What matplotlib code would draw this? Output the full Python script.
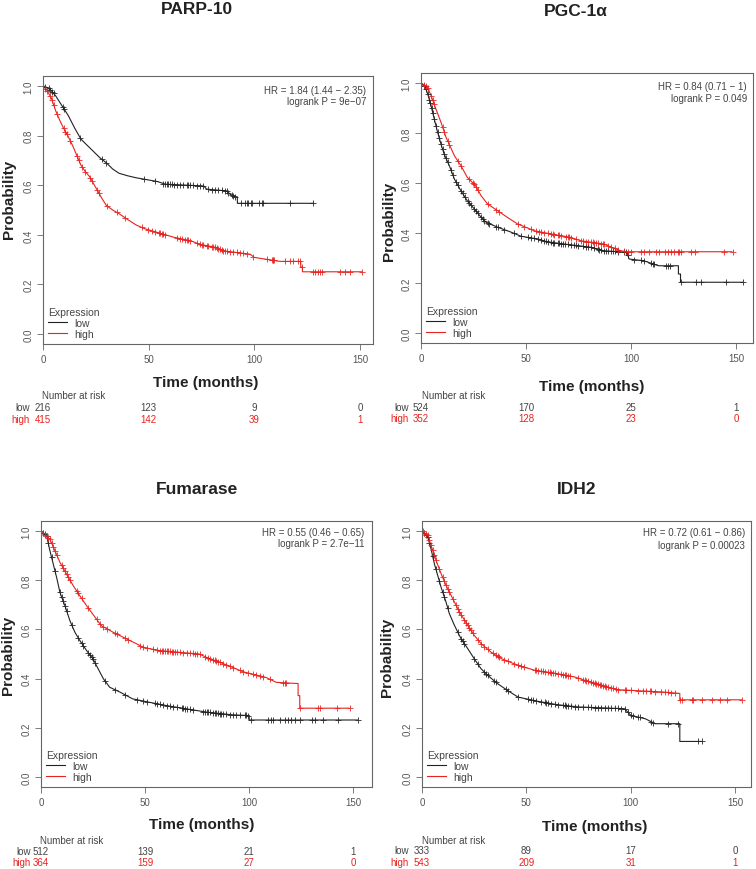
import matplotlib
matplotlib.use("Agg")
import matplotlib.pyplot as plt
import matplotlib.transforms as mtransforms
import numpy as np

plt.rcParams['font.family'] = ['Liberation Sans', 'DejaVu Sans']

# ---- data ----
titles = ["PARP-10", "PGC-1\u03b1", "Fumarase", "IDH2"]
hr_labels = ["HR = 1.84 (1.44 \u2212 2.35)", "HR = 0.84 (0.71 \u2212 1)",
             "HR = 0.55 (0.46 \u2212 0.65)", "HR = 0.72 (0.61 \u2212 0.86)"]
p_labels = ["logrank P = 9e\u221207", "logrank P = 0.049",
            "logrank P = 2.7e\u221211", "logrank P = 0.00023"]
x_ticks = [0, 50, 100, 150]
y_ticks = [0.0, 0.2, 0.4, 0.6, 0.8, 1.0]
y_tick_labels = ["0.0", "0.2", "0.4", "0.6", "0.8", "1.0"]
risk_low = [[216, 123, 9, 0], [524, 170, 25, 1], [512, 139, 21, 1], [333, 89, 17, 0]]
risk_high = [[415, 142, 39, 1], [352, 128, 23, 0], [364, 159, 27, 0], [543, 209, 31, 1]]

# PARP-10
parp_low_t = [0, 3, 6, 9, 12, 15, 18, 21, 24, 27, 30, 33, 36, 40, 44, 48, 54, 58, 76, 77.5, 87, 88.5, 91, 92, 92, 128]
parp_low_s = [1.0, 0.99, 0.96, 0.92, 0.88, 0.83, 0.785, 0.76, 0.735, 0.71, 0.69, 0.665, 0.648, 0.638, 0.63, 0.624,
              0.615, 0.604, 0.597, 0.584, 0.577, 0.564, 0.553, 0.553, 0.527, 0.527]
parp_low_c = [1.1, 2.7, 3.5, 4.3, 5.0, 9.5, 10.1, 17.6, 27.9, 30, 47.6, 53.1, 57, 57.8, 58.6, 59.4, 60.2, 61, 61.8,
              63.4, 64.9, 66.5, 68.1, 68.8, 69.6, 71.2, 72.8, 74.4, 75.9, 78.3, 79.9, 81.4, 83, 84.6, 86.2, 87, 87.8,
              89.3, 90.1, 90.9, 93.5, 95.6, 96.4, 97.2, 98.3, 98.8, 102.4, 103.5, 104.3, 116.9, 128]
parp_high_t = [0, 2, 4, 6, 8, 10, 12, 14, 16, 18, 20, 22, 24, 26, 28, 30, 33, 36, 40, 44, 48, 54, 62, 70, 74, 82, 85,
               98, 100, 112, 122, 122, 122.8, 122.8, 151]
parp_high_s = [1.0, 0.98, 0.95, 0.9, 0.86, 0.825, 0.795, 0.76, 0.72, 0.68, 0.655, 0.635, 0.605, 0.575, 0.545, 0.518,
               0.5, 0.485, 0.462, 0.44, 0.425, 0.41, 0.39, 0.376, 0.362, 0.349, 0.336, 0.322, 0.309, 0.293, 0.293,
               0.27, 0.27, 0.251, 0.251]
parp_high_c = [1.1, 1.9, 3.5, 4.3, 5.0, 6.6, 9.8, 10.6, 11.3, 12.9, 16.1, 16.9, 18.4, 20.0, 22.4, 23.2, 25.5, 26.3,
               30.3, 35.0, 38.9, 46.8, 49.9, 51.5, 53.1, 54.7, 55.5, 56.2, 57.0, 57.8, 63.3, 64.9, 65.7, 67.3, 68.1,
               68.8, 69.6, 72.8, 74.4, 75.2, 75.9, 77.5, 78.3, 79.9, 80.7, 81.5, 82.2, 83.0, 83.8, 84.6, 85.4, 86.2,
               87.0, 88.5, 90.1, 91.7, 93.3, 94.9, 96.4, 99.6, 105.9, 108.2, 108.7, 109.0, 109.3, 114.5, 116.9, 118.5,
               120.8, 121.6, 122.4, 128.0, 128.7, 130.3, 131.1, 131.9, 140.5, 142.9, 145.3, 150.8]

# PGC-1a
pgc_low_t = [0, 2, 3.2, 4.8, 6.3, 7.9, 9.5, 11, 13.5, 15.9, 19, 22, 25.4, 28.6, 31, 36.5, 43, 47.6, 55.6, 60, 68, 81,
             87, 98, 99, 106, 113, 122.5, 122.5, 123.5, 123.5, 153]
pgc_low_s = [1.0, 0.985, 0.956, 0.909, 0.856, 0.803, 0.756, 0.716, 0.669, 0.616, 0.569, 0.529, 0.496, 0.463, 0.443,
             0.423, 0.403, 0.387, 0.376, 0.365, 0.356, 0.343, 0.329, 0.323, 0.296, 0.289, 0.269, 0.269, 0.236,
             0.236, 0.203, 0.203]
pgc_low_c = [1.6, 2.4, 3.2, 4.0, 4.4, 5.1, 5.6, 6.3, 7.1, 7.9, 8.7, 9.5, 10.3, 11.1, 11.9, 12.7, 14.3, 15.1, 16.7,
             17.5, 19.0, 19.8, 20.9, 22.2, 23.0, 23.8, 25.4, 26.2, 27.0, 28.6, 29.4, 30.2, 31.7, 32.5, 35.7, 36.5,
             39.7, 44.4, 47.6, 50.8, 52.4, 54.0, 55.6, 57.1, 58.7, 59.5, 60.3, 61.9, 62.7, 63.5, 65.1, 65.9, 66.7,
             67.5, 68.3, 69.8, 71.4, 73.0, 73.8, 74.6, 77.0, 78.6, 79.4, 81.0, 82.5, 84.1, 84.9, 85.7, 87.3, 88.1,
             88.9, 90.5, 91.3, 92.1, 93.7, 96.8, 97.6, 98.4, 101.6, 104.8, 106.3, 109.5, 110.3, 111.1, 116.7, 117.5,
             118.3, 123.8, 131.0, 133.3, 145.2, 153.2]
pgc_high_t = [0, 3, 4.8, 7.1, 9.5, 11.9, 15.9, 19, 22, 26, 28.6, 31.7, 36.5, 41, 46, 54, 62, 71, 76, 87, 90.5, 95,
              98, 148]
pgc_high_s = [1.0, 0.985, 0.949, 0.896, 0.843, 0.783, 0.709, 0.669, 0.623, 0.589, 0.549, 0.516, 0.489, 0.463, 0.436,
              0.409, 0.396, 0.383, 0.369, 0.356, 0.343, 0.329, 0.325, 0.325]
pgc_high_c = [1.6, 2.4, 3.2, 4.8, 5.6, 6.3, 10.3, 11.1, 12.7, 13.5, 17.5, 19.0, 23.0, 24.6, 25.4, 26.2, 27.0, 31.7,
              35.7, 37.3, 46.0, 49.2, 52.4, 54.8, 56.3, 57.1, 58.7, 60.3, 61.9, 62.7, 63.5, 65.1, 65.9, 66.7, 69.0,
              69.8, 70.6, 71.4, 73.8, 76.2, 77.0, 78.6, 79.4, 81.0, 81.7, 82.5, 83.3, 84.1, 85.7, 86.5, 87.3, 88.9,
              90.5, 92.1, 93.7, 96.8, 98.4, 100.0, 104.8, 106.3, 108.7, 111.9, 113.5, 115.9, 117.5, 119.0, 120.6,
              122.2, 123.0, 123.8, 128.6, 130.2, 144.4, 148.4]

# Fumarase
fum_low_t = [0, 2.7, 4.3, 5.9, 7.5, 9.1, 11.5, 13.9, 16.3, 18.7, 21.9, 25, 27.5, 30, 33, 38, 44, 52, 60, 70, 79.6,
             92, 100, 100, 152]
fum_low_s = [1.0, 0.98, 0.919, 0.865, 0.811, 0.75, 0.696, 0.635, 0.588, 0.554, 0.514, 0.48, 0.439, 0.399, 0.365,
             0.345, 0.318, 0.304, 0.291, 0.277, 0.264, 0.253, 0.25, 0.232, 0.232]
fum_low_c = [1.1, 1.9, 2.7, 3.5, 5.1, 6.7, 9.1, 9.9, 10.7, 11.5, 12.3, 14.7, 17.9, 19.5, 20.3, 22.7, 23.5, 24.3,
             25.1, 25.9, 30.7, 35.5, 40.3, 45.9, 49.1, 50.7, 54.7, 55.5, 57.1, 58.7, 60.3, 61.9, 63.5, 65.1, 67.5,
             68.3, 69.1, 69.9, 71.5, 73.1, 78.0, 78.8, 79.5, 80.3, 81.1, 82.7, 83.5, 84.3, 85.1, 85.9, 86.7, 87.5,
             89.1, 90.7, 92.3, 93.9, 95.5, 97.9, 98.7, 99.5, 101.1, 109.1, 110.7, 111.5, 114.7, 117.1, 118.7, 120.3,
             121.9, 124.4, 130.0, 131.6, 135.6, 142.8, 152.4]
fum_high_t = [0, 4.3, 6.7, 9.1, 12.3, 15.5, 18.7, 21.9, 26, 29, 34.7, 39.5, 46, 49, 57, 76, 79.6, 86, 92, 97, 108,
              113, 123.5, 123.5, 124.3, 124.3, 148]
fum_high_s = [1.0, 0.966, 0.919, 0.872, 0.824, 0.777, 0.736, 0.696, 0.649, 0.615, 0.588, 0.568, 0.541, 0.527,
              0.514, 0.5, 0.486, 0.466, 0.446, 0.428, 0.405, 0.385, 0.38, 0.331, 0.331, 0.28, 0.28]
fum_high_c = [1.1, 1.9, 2.7, 3.5, 4.3, 5.1, 5.9, 6.7, 7.5, 9.9, 10.7, 11.5, 12.3, 13.1, 13.9, 17.1, 17.9, 19.5,
              22.7, 26.7, 28.3, 29.9, 31.5, 35.5, 36.3, 40.3, 41.9, 47.5, 49.1, 50.7, 53.9, 55.5, 57.1, 57.9, 58.7,
              59.5, 60.3, 61.1, 61.9, 62.7, 63.5, 64.3, 65.1, 66.7, 68.3, 69.9, 71.5, 73.1, 73.9, 74.7, 76.3, 78.7,
              80.3, 81.1, 82.7, 83.5, 84.3, 85.1, 85.9, 87.5, 89.1, 90.7, 92.3, 95.5, 97.1, 99.5, 101.9, 103.5,
              105.1, 106.7, 109.9, 116.3, 117.1, 117.9, 124.4, 133.2, 134.0, 142.0, 148.4]

# IDH2
idh_low_t = [0, 2.7, 4.3, 5.9, 7.5, 9.1, 11.5, 13.1, 15.5, 18.7, 21.9, 25, 28.3, 31.5, 36.3, 41, 46, 55.5, 65, 75,
             97, 100, 107, 111.6, 123.5, 123.5, 134]
idh_low_s = [1.0, 0.976, 0.928, 0.867, 0.82, 0.772, 0.711, 0.664, 0.617, 0.562, 0.522, 0.481, 0.44, 0.413, 0.379,
             0.352, 0.325, 0.308, 0.294, 0.285, 0.278, 0.251, 0.237, 0.217, 0.217, 0.145, 0.145]
idh_low_c = [1.1, 1.9, 2.7, 3.5, 5.1, 6.7, 8.3, 9.9, 10.7, 12.3, 17.1, 18.7, 19.5, 20.3, 25.1, 26.7, 29.9, 30.7,
             31.5, 34.7, 35.5, 40.3, 41.1, 45.9, 50.7, 52.3, 53.1, 54.7, 57.1, 58.7, 59.5, 60.3, 61.9, 63.5, 65.1,
             67.5, 68.3, 69.1, 69.9, 71.5, 73.1, 74.7, 77.1, 79.5, 81.1, 82.7, 84.3, 85.9, 87.5, 89.1, 90.7, 92.3,
             93.9, 95.5, 97.1, 98.7, 100.3, 101.1, 103.5, 104.3, 109.9, 110.7, 117.9, 122.8, 132.4, 134.0]
idh_high_t = [0, 2.7, 4.3, 6.7, 9.1, 11.5, 14.7, 17.9, 21.9, 25, 28.3, 33, 38, 46, 54, 65, 73, 78, 84, 89, 94, 115,
              123.5, 123.5, 153]
idh_high_s = [1.0, 0.982, 0.942, 0.881, 0.827, 0.779, 0.725, 0.671, 0.617, 0.576, 0.542, 0.508, 0.481, 0.454, 0.434,
              0.42, 0.407, 0.393, 0.379, 0.366, 0.355, 0.346, 0.34, 0.314, 0.314]
idh_high_c = [0.3, 1.1, 1.9, 2.7, 3.5, 4.3, 5.1, 5.9, 6.7, 8.3, 9.9, 10.7, 11.5, 12.3, 13.1, 14.7, 16.3, 17.1, 17.9,
              18.7, 20.3, 21.1, 21.9, 22.7, 23.5, 24.3, 26.7, 28.3, 29.9, 31.5, 33.9, 35.5, 36.3, 37.1, 39.5, 41.1,
              44.3, 45.9, 47.5, 49.1, 53.9, 54.7, 55.5, 57.1, 57.9, 58.7, 60.3, 61.1, 61.9, 62.7, 63.5, 65.1, 66.7,
              67.5, 68.3, 69.1, 69.9, 70.7, 74.7, 77.1, 77.9, 78.7, 79.5, 81.1, 81.9, 82.7, 83.5, 84.3, 85.1, 85.9,
              86.7, 87.5, 88.3, 89.1, 90.7, 91.5, 93.1, 93.9, 97.1, 97.9, 100.3, 103.5, 105.9, 107.5, 109.1, 109.9,
              111.5, 114.7, 116.3, 117.9, 119.5, 121.1, 123.6, 124.4, 129.2, 130.0, 134.0, 138.8, 142.8, 146.0, 153.2]

curves = [
    (parp_low_t, parp_low_s, parp_low_c, parp_high_t, parp_high_s, parp_high_c),
    (pgc_low_t, pgc_low_s, pgc_low_c, pgc_high_t, pgc_high_s, pgc_high_c),
    (fum_low_t, fum_low_s, fum_low_c, fum_high_t, fum_high_s, fum_high_c),
    (idh_low_t, idh_low_s, idh_low_c, idh_high_t, idh_high_s, idh_high_c),
]

# ---- layout (pixels in the 756x870 image) ----
W, H = 756, 870
boxes = [(43, 77, 373, 345), (421, 74, 753, 344), (41, 522, 372, 788), (422, 522, 751, 788)]
xmax = [156.2, 158.0, 159.0, 157.6]
title_pos = [(197, 10), (576, 12), (197, 490), (577, 490)]
ylab_pos = [(9, 199), (389, 221), (8, 655), (387, 657)]
xlab_pos = [(206, 383), (592, 387), (202, 825), (595, 827)]
nrisk_pos = [(74, 396), (454, 396), (72, 841), (454, 841)]
row_y = [(408, 420), (408, 419), (852, 863), (851, 863)]
row_lab_x = [30, 409, 31, 409]
hr_pos = [(366, 91, 102), (747, 87, 99), (364, 533, 544), (745, 533, 546)]

BLACK = '#222222'
RED = '#e8231f'
GREY = '#555555'


def fx(x):
    return x / W


def fy(y):
    return 1 - y / H


fig = plt.figure(figsize=(W / 100, H / 100), dpi=100)

for i in range(4):
    l, t, r, b = boxes[i]
    ax = fig.add_axes([fx(l), fy(b), (r - l) / W, (b - t) / H])
    lt, ls, lc, ht, hs, hc = curves[i]

    ax.plot(lt, ls, color=BLACK, lw=0.8, label='low')
    ax.plot(ht, hs, color=RED, lw=0.8, label='high')
    ax.plot(lc, np.interp(lc, lt, ls), '+', color=BLACK, ms=5, mew=0.7, alpha=0.85)
    ax.plot(hc, np.interp(hc, ht, hs), '+', color=RED, ms=5, mew=0.7, alpha=0.85)

    ax.set_xlim(0, xmax[i])
    ax.set_ylim(-0.04, 1.04)
    ax.set_xticks(x_ticks)
    ax.set_yticks(y_ticks)
    ax.set_yticklabels(y_tick_labels)
    for lab in ax.get_yticklabels():
        lab.set_rotation(90)
        lab.set_va('center')
    ax.tick_params(direction='out', length=4, width=0.6, colors='#666666', labelcolor=GREY,
                   labelsize=7, pad=3)
    for sp in ax.spines.values():
        sp.set_color('#666666')
        sp.set_linewidth(0.8)

    leg = ax.legend(title='Expression', loc='lower left', frameon=False, fontsize=7.5,
                    title_fontsize=7.5, handlelength=1.8, handletextpad=0.7, labelspacing=0.1,
                    borderaxespad=0.2, borderpad=0.3, alignment='left')
    for txt in leg.get_texts():
        txt.set_color('#444444')
    leg.get_title().set_color('#444444')

    hx, hy1, hy2 = hr_pos[i]
    fig.text(fx(hx), fy(hy1), hr_labels[i], ha='right', va='center', fontsize=7, color='#444444')
    fig.text(fx(hx), fy(hy2), p_labels[i], ha='right', va='center', fontsize=7, color='#444444')

    fig.text(fx(title_pos[i][0]), fy(title_pos[i][1]), titles[i], ha='center', va='center',
             fontsize=12.5, fontweight='bold', color='#222222')
    fig.text(fx(ylab_pos[i][0]), fy(ylab_pos[i][1]), 'Probability', rotation=90, ha='center',
             va='center', fontsize=11, fontweight='bold', color='#222222')
    fig.text(fx(xlab_pos[i][0]), fy(xlab_pos[i][1]), 'Time (months)', ha='center', va='center',
             fontsize=11, fontweight='bold', color='#222222')
    fig.text(fx(nrisk_pos[i][0]), fy(nrisk_pos[i][1]), 'Number at risk', ha='center', va='center',
             fontsize=7, color='#444444')

    trans = mtransforms.blended_transform_factory(ax.transData, fig.transFigure)
    y_low, y_high = row_y[i]
    fig.text(fx(row_lab_x[i]), fy(y_low), 'low', ha='right', va='center', fontsize=7, color='#444444')
    fig.text(fx(row_lab_x[i]), fy(y_high), 'high', ha='right', va='center', fontsize=7, color=RED)
    for k, tt in enumerate(x_ticks):
        ax.text(tt, fy(y_low), str(risk_low[i][k]), transform=trans, ha='center', va='center',
                fontsize=7, color='#444444', clip_on=False)
        ax.text(tt, fy(y_high), str(risk_high[i][k]), transform=trans, ha='center', va='center',
                fontsize=7, color=RED, clip_on=False)

fig.savefig('out.png', dpi=100)
